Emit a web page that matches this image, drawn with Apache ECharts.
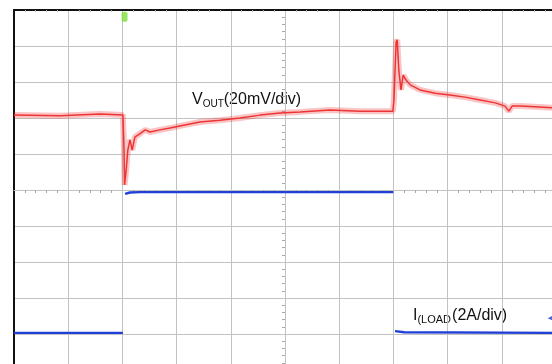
<!DOCTYPE html>
<html>
<head>
<meta charset="utf-8">
<title>Load transient</title>
<script src="https://cdn.jsdelivr.net/npm/echarts@6/dist/echarts.min.js"></script>
<style>
  html, body { margin: 0; padding: 0; background: #fff; }
  #chart { width: 552px; height: 364px; }
</style>
</head>
<body>
<div id="chart"></div>
<script>
// screen divisions, centre of the graticule = (0, 0)
const vOutTrace = [
  [-5.0, 2.08], [-4.15, 2.06], [-3.41, 2.11], [-2.99, 2.08],
  [-2.97, 1.11], [-2.96, 0.14], [-2.93, 0.56], [-2.90, 1.11],
  [-2.86, 1.39], [-2.82, 1.11], [-2.77, 1.47], [-2.68, 1.56],
  [-2.58, 1.67], [-2.49, 1.61], [-2.31, 1.67], [-2.12, 1.72],
  [-1.94, 1.78], [-1.57, 1.89], [-1.20, 1.94], [-0.83, 2.0],
  [-0.46, 2.08], [-0.09, 2.14], [0.28, 2.17], [0.83, 2.22],
  [1.38, 2.19], [1.99, 2.19], [2.01, 2.5], [2.05, 4.11],
  [2.07, 4.17], [2.10, 3.33], [2.14, 2.78], [2.18, 3.19],
  [2.23, 3.06], [2.31, 2.92], [2.49, 2.78], [2.77, 2.69],
  [3.04, 2.64], [3.32, 2.58], [3.60, 2.5], [3.88, 2.42],
  [4.06, 2.33], [4.13, 2.19], [4.19, 2.33], [4.34, 2.33],
  [4.61, 2.31], [5.0, 2.28]
];
const iLoadTrace = [
  [-5.0, -3.97], [-2.99, -3.97], [-2.97, '-'],
  [-2.95, -0.11], [-2.86, -0.07], [-2.68, -0.06], [2.0, -0.06],
  [2.01, '-'], [2.03, -3.92], [2.2, -3.95], [5.0, -3.97]
];
const triggerMark = [[-2.96, 4.81]];
const channelMark = [[4.91, -3.56]];

const chart = echarts.init(document.getElementById('chart'));

const gridGray = '#c2c2c2';

chart.setOption({
  animation: false,
  grid: { left: 14, top: 10, width: 542, height: 360, outerBoundsMode: 'none', containLabel: false },
  xAxis: [
    {
      type: 'value', min: -5, max: 5, interval: 1, position: 'bottom',
      axisLine: { onZero: true, lineStyle: { color: gridGray, width: 1 } },
      axisTick: { show: false },
      minorTick: { show: true, splitNumber: 5, length: 3, lineStyle: { color: '#a8a8a8' } },
      axisLabel: { show: false },
      splitLine: { show: true, lineStyle: { color: gridGray, width: 1 } }
    },
    {
      type: 'value', min: -5, max: 5, interval: 1, position: 'top',
      axisLine: { onZero: false, lineStyle: { color: '#111', width: 2 } },
      axisTick: { show: false, inside: true },
      minorTick: { show: true, splitNumber: 5, length: 2, lineStyle: { color: '#b0b0b0' } },
      axisLabel: { show: false },
      splitLine: { show: false }
    }
  ],
  yAxis: [
    {
      type: 'value', min: -5, max: 5, interval: 1, position: 'left',
      axisLine: { onZero: true, lineStyle: { color: gridGray, width: 1 } },
      axisTick: { show: false },
      minorTick: { show: true, splitNumber: 5, length: 3, lineStyle: { color: '#a8a8a8' } },
      axisLabel: { show: false },
      splitLine: { show: true, lineStyle: { color: gridGray, width: 1 } }
    },
    {
      type: 'value', min: -5, max: 5, interval: 1, position: 'left',
      axisLine: { onZero: false, lineStyle: { color: '#111', width: 2 } },
      axisTick: { show: false },
      axisLabel: { show: false },
      splitLine: { show: false }
    }
  ],
  series: [
    {
      // noise band of the Vout trace
      type: 'line', data: vOutTrace, showSymbol: false,
      lineStyle: { color: 'rgba(240,60,60,0.3)', width: 6 }
    },
    {
      type: 'line', data: vOutTrace, showSymbol: false,
      lineStyle: { color: '#ee3535', width: 1.5 }
    },
    {
      type: 'line', data: iLoadTrace, showSymbol: false, connectNulls: false,
      lineStyle: { color: '#1f3fd6', width: 2.4 }
    },
    {
      type: 'scatter', data: triggerMark, symbol: 'roundRect', symbolSize: [6, 10],
      itemStyle: { color: '#7ede3c' }
    },
    {
      type: 'scatter', data: channelMark, symbol: 'triangle', symbolRotate: 90, symbolSize: 7,
      itemStyle: { color: '#1f3fd6' }
    }
  ],
  graphic: [
    {
      type: 'text', left: 192, top: 92,
      style: {
        text: '{m|V}{s|OUT}{m|(20mV/div)}',
        fill: '#111',
        rich: {
          m: { fontFamily: 'Liberation Sans', fontSize: 16, lineHeight: 18, fill: '#111' },
          s: { fontFamily: 'Liberation Sans', fontSize: 10, lineHeight: 10, verticalAlign: 'bottom', fill: '#111' }
        }
      }
    },
    {
      type: 'text', left: 413, top: 308,
      style: {
        text: '{m|I}{s|(LOAD}{m|(2A/div)}',
        fill: '#111',
        rich: {
          m: { fontFamily: 'Liberation Sans', fontSize: 16, lineHeight: 18, fill: '#111' },
          s: { fontFamily: 'Liberation Sans', fontSize: 11, lineHeight: 10, verticalAlign: 'bottom', fill: '#111', padding: [0, 1, 0, 0] }
        }
      }
    }
  ]
});
</script>
</body>
</html>
